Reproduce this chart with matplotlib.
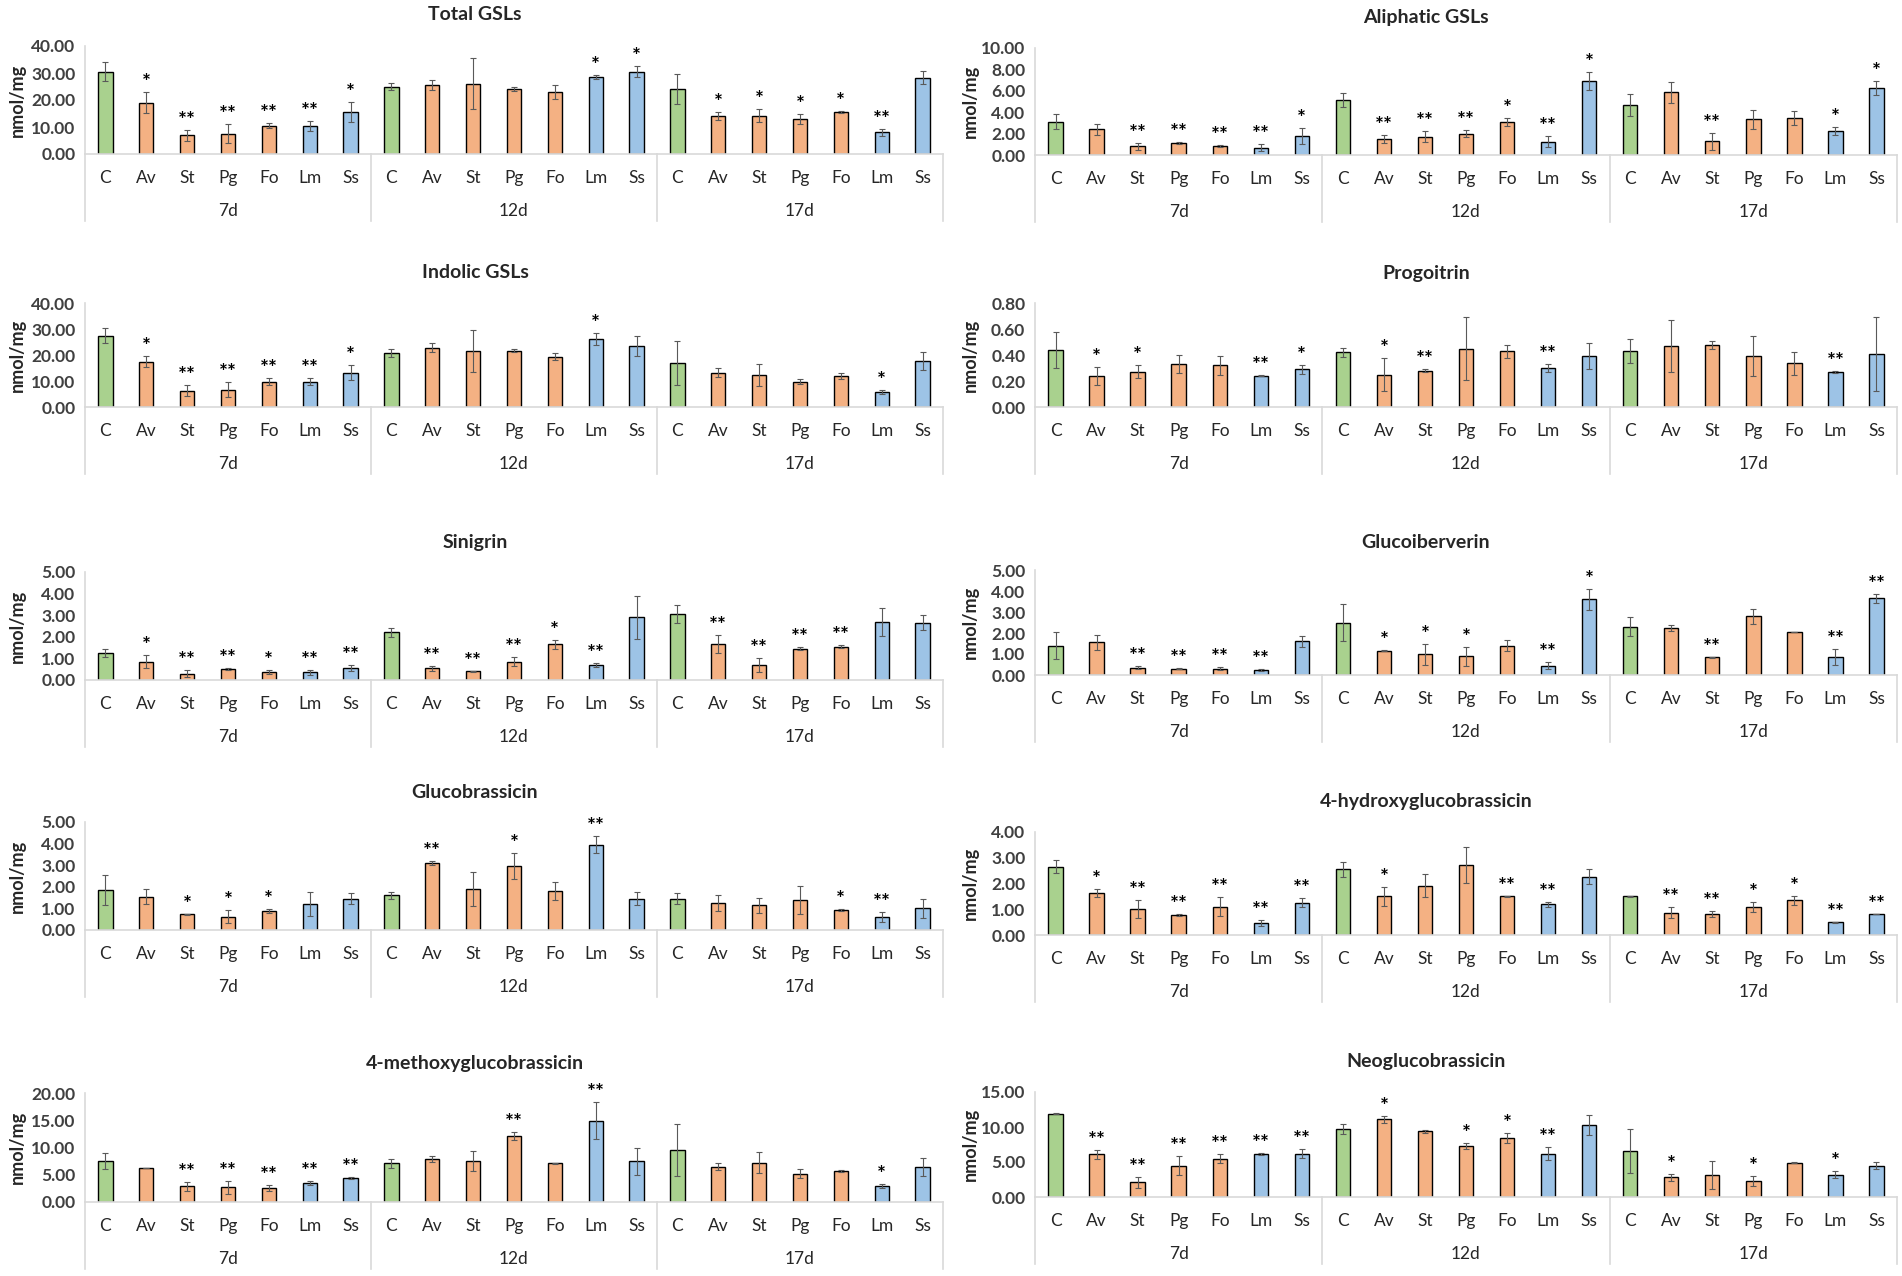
import numpy as np
import matplotlib.pyplot as plt
from matplotlib import transforms

W, H = 1902, 1276

# Lato is the nearest installed thing to the Calibri of the original
plt.rcParams['font.family'] = ['Lato', 'DejaVu Sans']

days = ['7d', '12d', '17d']
treatments = ['C', 'Av', 'St', 'Pg', 'Fo', 'Lm', 'Ss']

total_mean = [30.5, 19.0, 7.0, 7.5, 10.5, 10.5, 15.5,
              25.0, 25.5, 26.0, 24.0, 23.0, 28.5, 30.5,
              24.0, 14.0, 14.2, 13.0, 15.5, 8.0, 28.3]
total_err = [3.5, 3.8, 2.0, 3.5, 1.0, 1.8, 3.8,
             1.3, 1.8, 9.5, 0.8, 2.5, 0.8, 2.0,
             5.5, 1.5, 2.5, 2.0, 0.3, 1.3, 2.3]
total_sig = ['', '*', '**', '**', '**', '**', '*',
             '', '', '', '', '', '*', '*',
             '', '*', '*', '*', '*', '**', '']

aliph_mean = [3.1, 2.4, 0.8, 1.15, 0.85, 0.7, 1.8,
              5.1, 1.5, 1.7, 2.0, 3.1, 1.25, 6.9,
              4.65, 5.85, 1.3, 3.35, 3.5, 2.25, 6.3]
aliph_err = [0.7, 0.5, 0.35, 0.1, 0.1, 0.3, 0.75,
             0.65, 0.4, 0.5, 0.35, 0.4, 0.5, 0.85,
             1.05, 1.0, 0.8, 0.9, 0.65, 0.4, 0.65]
aliph_sig = ['', '', '**', '**', '**', '**', '*',
             '', '**', '**', '**', '*', '**', '*',
             '', '', '**', '', '', '*', '*']

indol_mean = [27.5, 17.5, 6.3, 6.7, 9.8, 9.8, 13.2,
              20.8, 22.8, 21.5, 21.7, 19.3, 26.3, 23.5,
              16.8, 13.2, 12.4, 9.8, 12.0, 5.8, 17.8]
indol_err = [3.0, 2.0, 2.0, 3.0, 1.2, 1.5, 2.8,
             1.5, 1.8, 8.0, 0.6, 1.3, 2.3, 4.0,
             8.5, 1.8, 4.2, 1.0, 1.1, 0.8, 3.5]
indol_sig = ['', '*', '**', '**', '**', '**', '*',
             '', '', '', '', '', '*', '',
             '', '', '', '', '', '*', '']

progo_mean = [0.44, 0.24, 0.27, 0.33, 0.32, 0.24, 0.29,
              0.42, 0.25, 0.28, 0.45, 0.43, 0.30, 0.39,
              0.43, 0.47, 0.475, 0.39, 0.335, 0.27, 0.405]
progo_err = [0.14, 0.07, 0.05, 0.07, 0.07, 0.005, 0.035,
             0.035, 0.13, 0.01, 0.24, 0.05, 0.03, 0.10,
             0.09, 0.20, 0.03, 0.155, 0.09, 0.01, 0.285]
progo_sig = ['', '*', '*', '', '', '**', '*',
             '', '*', '**', '', '', '**', '',
             '', '', '', '', '', '**', '']

sinig_mean = [1.25, 0.85, 0.3, 0.5, 0.38, 0.35, 0.55,
              2.2, 0.55, 0.4, 0.85, 1.65, 0.7, 2.9,
              3.05, 1.65, 0.68, 1.45, 1.55, 2.7, 2.65]
sinig_err = [0.2, 0.3, 0.15, 0.05, 0.08, 0.1, 0.15,
             0.2, 0.12, 0.02, 0.2, 0.2, 0.08, 1.0,
             0.4, 0.42, 0.33, 0.08, 0.08, 0.65, 0.35]
sinig_sig = ['', '*', '**', '**', '*', '**', '**',
             '', '**', '**', '**', '*', '**', '',
             '', '**', '**', '**', '**', '', '']

gibv_mean = [1.4, 1.55, 0.35, 0.3, 0.3, 0.25, 1.6,
             2.5, 1.15, 1.0, 0.9, 1.4, 0.45, 3.6,
             2.3, 2.25, 0.85, 2.8, 2.05, 0.85, 3.65]
gibv_err = [0.65, 0.35, 0.08, 0.02, 0.08, 0.04, 0.28,
            0.9, 0.02, 0.5, 0.45, 0.25, 0.15, 0.5,
            0.45, 0.15, 0.03, 0.35, 0.02, 0.38, 0.2]
gibv_sig = ['', '', '**', '**', '**', '**', '',
            '', '*', '*', '*', '', '**', '*',
            '', '', '**', '', '', '**', '**']

gbs_mean = [1.85, 1.55, 0.72, 0.62, 0.87, 1.2, 1.45,
            1.6, 3.1, 1.9, 2.95, 1.8, 3.95, 1.45,
            1.45, 1.25, 1.15, 1.4, 0.92, 0.6, 1.0]
gbs_err = [0.7, 0.35, 0.01, 0.3, 0.1, 0.55, 0.25,
           0.15, 0.08, 0.8, 0.6, 0.4, 0.4, 0.3,
           0.25, 0.35, 0.35, 0.65, 0.03, 0.25, 0.45]
gbs_sig = ['', '', '*', '*', '*', '', '',
           '', '**', '', '*', '', '**', '',
           '', '', '', '', '*', '**', '']

ohgbs_mean = [2.65, 1.62, 1.0, 0.78, 1.1, 0.47, 1.25,
              2.55, 1.5, 1.92, 2.72, 1.5, 1.2, 2.27,
              1.5, 0.87, 0.82, 1.1, 1.35, 0.5, 0.82]
ohgbs_err = [0.25, 0.15, 0.35, 0.03, 0.38, 0.12, 0.18,
             0.28, 0.38, 0.45, 0.7, 0.01, 0.1, 0.3,
             0.02, 0.22, 0.12, 0.2, 0.17, 0.02, 0.01]
ohgbs_sig = ['', '*', '**', '**', '**', '**', '**',
             '', '*', '', '', '**', '**', '',
             '', '**', '**', '*', '*', '**', '**']

megbs_mean = [7.5, 6.2, 2.9, 2.7, 2.6, 3.5, 4.4,
              7.1, 7.9, 7.5, 12.1, 7.1, 14.9, 7.5,
              9.6, 6.5, 7.2, 5.2, 5.7, 2.9, 6.4]
megbs_err = [1.4, 0.05, 0.85, 1.2, 0.5, 0.4, 0.1,
             0.8, 0.6, 1.8, 0.8, 0.05, 3.4, 2.5,
             4.8, 0.7, 1.9, 0.8, 0.15, 0.4, 1.7]
megbs_sig = ['', '', '**', '**', '**', '**', '**',
             '', '', '', '**', '', '**', '',
             '', '', '', '', '', '*', '']

neo_mean = [11.9, 6.1, 2.1, 4.5, 5.5, 6.2, 6.2,
            9.7, 11.1, 9.4, 7.3, 8.4, 6.2, 10.3,
            6.6, 2.8, 3.2, 2.3, 4.9, 3.2, 4.5]
neo_err = [0.1, 0.6, 0.8, 1.3, 0.6, 0.15, 0.6,
           0.7, 0.5, 0.2, 0.45, 0.7, 0.9, 1.4,
           3.1, 0.5, 2.0, 0.7, 0.05, 0.5, 0.45]
neo_sig = ['', '**', '**', '**', '**', '**', '**',
           '', '*', '', '*', '*', '**', '',
           '', '*', '', '*', '', '*', '']

green, orange, blue = '#a9d18e', '#f4b183', '#9dc3e6'
treat_color = {'C': green, 'Av': orange, 'St': orange, 'Pg': orange,
               'Fo': orange, 'Lm': blue, 'Ss': blue}
bar_colors = [treat_color[t] for t in treatments] * len(days)

# title, mean, err, sig, ymax, step, column, axes top px, zero line px, title px
panels = [
    ('Total GSLs', total_mean, total_err, total_sig, 40, 10, 0, 46, 154, 15),
    ('Aliphatic GSLs', aliph_mean, aliph_err, aliph_sig, 10, 2, 1, 48, 155, 18),
    ('Indolic GSLs', indol_mean, indol_err, indol_sig, 40, 10, 0, 303, 407, 273),
    ('Progoitrin', progo_mean, progo_err, progo_sig, 0.8, 0.2, 1, 303, 407, 273),
    ('Sinigrin', sinig_mean, sinig_err, sinig_sig, 5, 1, 0, 572, 680, 542),
    ('Glucoiberverin', gibv_mean, gibv_err, gibv_sig, 5, 1, 1, 570, 675, 542),
    ('Glucobrassicin', gbs_mean, gbs_err, gbs_sig, 5, 1, 0, 822, 930, 793),
    ('4-hydroxyglucobrassicin', ohgbs_mean, ohgbs_err, ohgbs_sig, 4, 1, 1, 832, 935, 802),
    ('4-methoxyglucobrassicin', megbs_mean, megbs_err, megbs_sig, 20, 5, 0, 1093, 1202, 1063),
    ('Neoglucobrassicin', neo_mean, neo_err, neo_sig, 15, 5, 1, 1092, 1197, 1062),
]

cols = [dict(x0=85, x1=943, title_x=475, ylab_x=17),
        dict(x0=1035, x1=1897, title_x=1426, ylab_x=970)]

grey = '#d9d9d9'
ink = '#262626'

fig = plt.figure(figsize=(W / 100, H / 100), dpi=100)

for title, mean, err, sig, ymax, step, col, top, zero, ty in panels:
    c = cols[col]
    ax = fig.add_axes([c['x0'] / W, 1 - zero / H, (c['x1'] - c['x0']) / W, (zero - top) / H])
    xs = np.arange(len(mean))
    ax.bar(xs, mean, width=0.35, color=bar_colors, edgecolor='black', linewidth=1, zorder=2)
    ax.errorbar(xs, mean, yerr=err, fmt='none', ecolor='#595959', elinewidth=0.8,
                capsize=2, capthick=0.8, zorder=3)

    star_t = transforms.offset_copy(ax.transData, fig=fig, y=-1, units='dots')
    for x, m, e, s in zip(xs, mean, err, sig):
        if s:
            ax.text(x, m + e, s, transform=star_t, ha='center', va='bottom',
                    fontsize=15, fontweight='bold', color='black')

    ax.set_xlim(-0.5, len(mean) - 0.5)
    ax.set_ylim(0, ymax)
    ticks = np.arange(0, ymax + step / 2, step)
    ax.set_yticks(ticks)
    ax.set_yticklabels([f'{t:.2f}' for t in ticks], fontsize=12.5, fontweight='bold', color='#404040')
    ax.tick_params(axis='y', length=0, pad=7)
    ax.set_xticks([])
    for s in ('right', 'top'):
        ax.spines[s].set_visible(False)
    for s in ('left', 'bottom'):
        ax.spines[s].set_color(grey)
        ax.spines[s].set_linewidth(1.2)
    ax.patch.set_visible(False)

    # two level category axis like excel
    base = transforms.blended_transform_factory(ax.transData, ax.transAxes)
    cat_t = transforms.offset_copy(base, fig=fig, y=-24, units='dots')
    grp_t = transforms.offset_copy(base, fig=fig, y=-57, units='dots')
    for x, lab in zip(xs, treatments * len(days)):
        ax.text(x, 0, lab, transform=cat_t, ha='center', va='center', fontsize=12.5, color=ink)
    for i, d in enumerate(days):
        ax.text(i * 7 + 3, 0, d, transform=grp_t, ha='center', va='center', fontsize=12.5, color=ink)
    h = zero - top
    for xb in np.arange(len(days) + 1) * 7 - 0.5:
        ax.plot([xb, xb], [0, -67 / h], transform=base, clip_on=False,
                color=grey, linewidth=1.2)

    fig.text(c['title_x'] / W, 1 - ty / H, title, ha='center', va='center',
             fontsize=14, fontweight='bold', color=ink)
    fig.text(c['ylab_x'] / W, 1 - (top + zero) / 2 / H, 'nmol/mg', rotation=90,
             ha='center', va='center', fontsize=13, fontweight='bold', color=ink)

fig.savefig('out.png', dpi=100, facecolor='white')
